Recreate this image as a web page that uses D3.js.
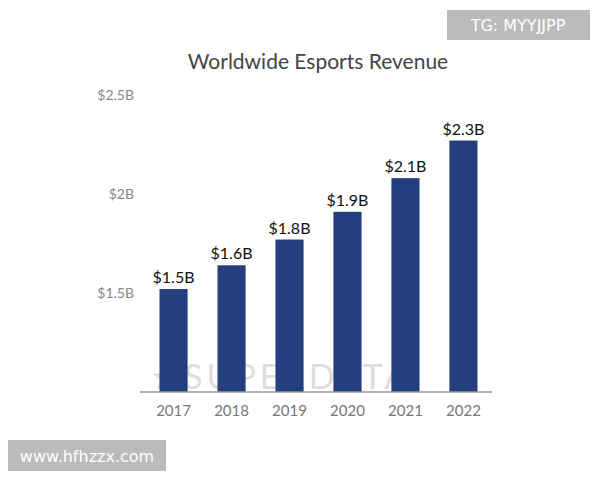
<!DOCTYPE html>
<html><head><meta charset="utf-8">
<script src="https://cdn.jsdelivr.net/npm/d3@7"></script>
<style>body{margin:0;background:#fff}text{font-family:Lato,"Open Sans",sans-serif}</style>
</head><body><svg id="chart" width="600" height="480"></svg>
<script>
const years = ["2017","2018","2019","2020","2021","2022"]
const revenue = [1.52, 1.64, 1.77, 1.91, 2.08, 2.27]
const valueLabels = ["$1.5B","$1.6B","$1.8B","$1.9B","$2.1B","$2.3B"]
const yTicks = [1.5, 2, 2.5]
const yTickLabels = ["$1.5B","$2B","$2.5B"]

let svg = d3.select("#chart")

let x = d3.scaleBand().domain(years).range([145, 492]).paddingInner(0.515).paddingOuter(0.25)
let y = d3.scaleLinear().domain([1, 2.5]).range([392, 95])

svg.append("text").attr("x", 318).attr("y", 69).attr("text-anchor", "middle")
  .attr("font-size", 21).attr("fill", "#444").text("Worldwide Esports Revenue")

svg.selectAll(".ytick").data(yTicks).join("text")
  .attr("x", 134).attr("y", d => y(d) + 5).attr("text-anchor", "end")
  .attr("font-size", 14).attr("fill", "#888")
  .text((d, i) => yTickLabels[i])

// watermark
svg.append("text").attr("x", 150).attr("y", 389).attr("font-size", 34)
  .attr("letter-spacing", 4).attr("fill", "#ddd").text("★SUPERDATA")

svg.selectAll(".bar").data(revenue).join("rect")
  .attr("x", (d, i) => x(years[i])).attr("width", x.bandwidth())
  .attr("y", d => y(d)).attr("height", d => y(1) - y(d))
  .attr("fill", "#243f7d")

svg.selectAll(".vlab").data(revenue).join("text")
  .attr("x", (d, i) => x(years[i]) + x.bandwidth() / 2).attr("y", d => y(d) - 6)
  .attr("text-anchor", "middle").attr("font-size", 16).attr("fill", "#111")
  .text((d, i) => valueLabels[i])

svg.append("line").attr("x1", 140).attr("x2", 492).attr("y1", 392).attr("y2", 392)
  .attr("stroke", "#999").attr("stroke-width", 1.5)

svg.selectAll(".xlab").data(years).join("text")
  .attr("x", d => x(d) + x.bandwidth() / 2).attr("y", 416)
  .attr("text-anchor", "middle").attr("font-size", 15).attr("fill", "#777")
  .text(d => d)

// overlay labels
svg.append("rect").attr("x", 447).attr("y", 10).attr("width", 143).attr("height", 30).attr("fill", "#bbb")
svg.append("text").attr("x", 518).attr("y", 31).attr("text-anchor", "middle")
  .attr("font-size", 16).attr("fill", "#fff").style("font-family", "'DejaVu Sans'").text("TG: MYYJJPP")
svg.append("rect").attr("x", 8).attr("y", 440).attr("width", 158).attr("height", 31).attr("fill", "#bbb")
svg.append("text").attr("x", 87).attr("y", 462).attr("text-anchor", "middle")
  .attr("font-size", 16).attr("fill", "#fff").style("font-family", "'DejaVu Sans'").text("www.hfhzzx.com")
</script></body></html>
